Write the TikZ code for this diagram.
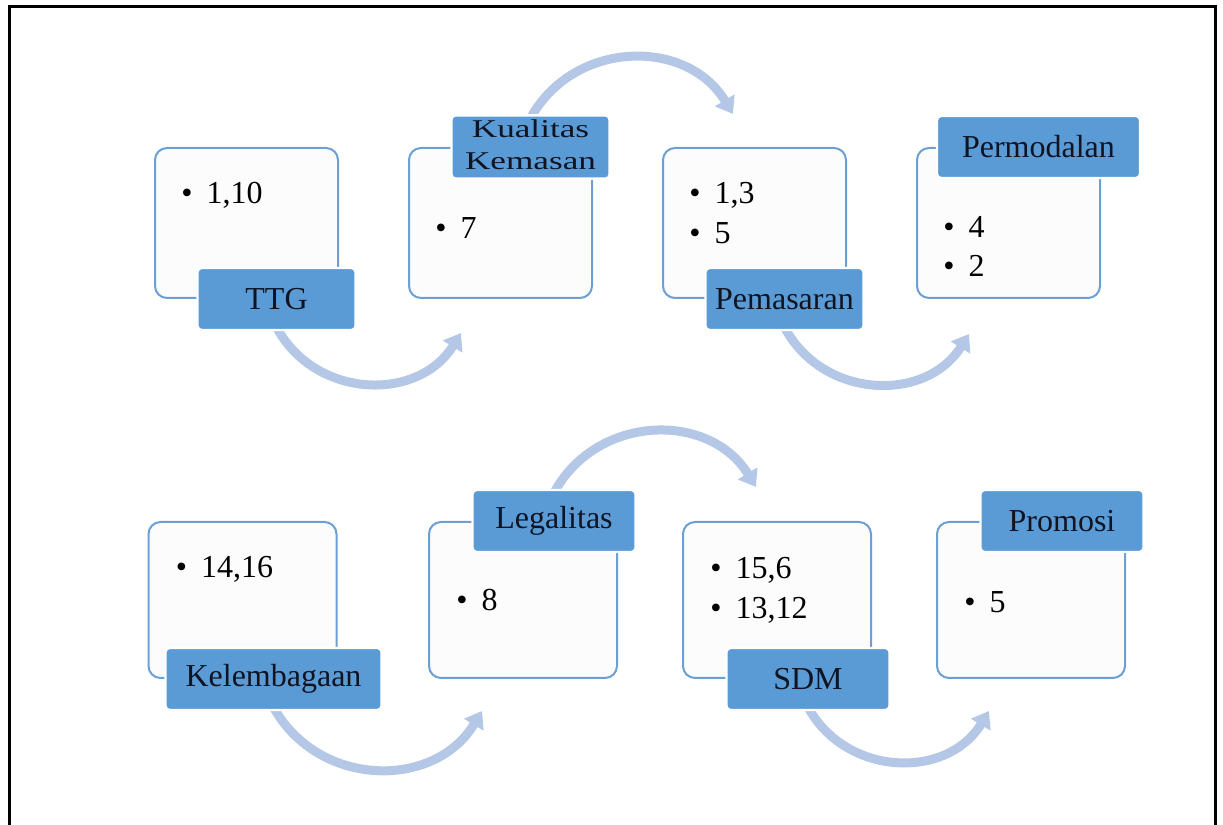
\documentclass[tikz,border=0pt]{standalone}
\usepackage{fontspec}
\setmainfont{Liberation Serif}
\usepackage{tikz}
\usetikzlibrary{positioning}
\usetikzlibrary{arrows.meta}
\usetikzlibrary{backgrounds}
\definecolor{tagblue}{RGB}{91,155,213}
\definecolor{boxblue}{RGB}{108,160,212}
\definecolor{flowblue}{RGB}{180,199,231}
\definecolor{tagtext}{RGB}{15,20,35}
\tikzset{
    every node/.style={font=\fontsize{16}{19.75}\selectfont}, % Text size of all texts
    numbox/.style={ % White boxes holding the numbers
        draw=boxblue,
        line width=1pt,
        fill=black!1,
        rounded corners=6pt,
        minimum width=91.5pt,
        minimum height=75pt
    },
    widebox/.style={numbox, minimum width=94pt, minimum height=78pt},
    tag/.style={ % Blue title on a corner of each box
        draw=white,
        line width=1.2pt,
        fill=tagblue,
        text=tagtext,
        rounded corners=2pt,
        minimum width=79pt,
        minimum height=31pt,
        inner xsep=3pt,
        inner ysep=0pt
    },
    widetag/.style={tag, minimum width=81.5pt},
    items/.style={anchor=north west, inner sep=0pt, align=left},
    flow/.style={ % Curved arrow from one box to the next
        draw=flowblue,
        line width=4.5pt,
        -{Triangle[width=11pt,length=8pt]},
        looseness=1.13
    }
}

\begin{document}
\begin{tikzpicture}[x=0.5pt,y=0.5pt]
    \useasboundingbox (0,0) rectangle (1223,825);
    \draw[line width=1.5pt] (9,0) -- (9,818.5) -- (1215,818.5) -- (1215,0);

    % upper row
    \node[numbox] (b1) at (246.5,602) {};
    \node[numbox, right=34.5pt of b1] (b2) {};
    \node[numbox, right=34.5pt of b2] (b3) {};
    \node[numbox, right=34.5pt of b3] (b4) {};

    \node[tag] (ttg) at ([xshift=15pt]b1.south) {TTG};
    \node[tag] (kemasan) at ([xshift=15pt]b2.north) {\scalebox{1.1}[0.8]{\begin{tabular}{@{}c@{}}Kualitas\\Kemasan\end{tabular}}};
    \node[tag] (pemasaran) at ([xshift=15pt]b3.south) {Pemasaran};
    \node[tag, minimum width=101.5pt] (modal) at ([xshift=15pt]b4.north) {Permodalan};

    \node[items] at ([shift={(13.5pt,-17.5pt)}]b1.north west) {\textbullet\hspace{7pt}1,10};
    \node[items] at ([shift={(13.5pt,-35pt)}]b2.north west) {\textbullet\hspace{7pt}7};
    \node[items] at ([shift={(13.5pt,-17.5pt)}]b3.north west) {\textbullet\hspace{7pt}1,3\\\textbullet\hspace{7pt}5};
    \node[items] at ([shift={(13.5pt,-34.5pt)}]b4.north west) {\textbullet\hspace{7pt}4\\\textbullet\hspace{7pt}2};

    % lower row
    \node[widebox] (b5) at (242.5,225) {};
    \node[widebox, right=45.25pt of b5] (b6) {};
    \node[widebox, right=32pt of b6] (b7) {};
    \node[widebox, right=32pt of b7] (b8) {};

    \node[widetag, minimum width=108pt] (lembaga) at ([xshift=15.5pt]b5.south) {Kelembagaan};
    \node[widetag] (legal) at ([xshift=15.5pt]b6.north) {Legalitas};
    \node[widetag] (sdm) at ([xshift=15.5pt]b7.south) {SDM};
    \node[widetag] (promosi) at ([xshift=15.5pt]b8.north) {Promosi};

    \node[items] at ([shift={(14pt,-17.5pt)}]b5.north west) {\textbullet\hspace{7pt}14,16};
    \node[items] at ([shift={(14pt,-34pt)}]b6.north west) {\textbullet\hspace{7pt}8};
    \node[items] at ([shift={(14pt,-18pt)}]b7.north west) {\textbullet\hspace{7pt}15,6\\\textbullet\hspace{7pt}13,12};
    \node[items] at ([shift={(14pt,-35pt)}]b8.north west) {\textbullet\hspace{7pt}5};

    % arrow tips
    \coordinate (t1) at ([shift={(26.5pt,-17pt)}]b2.south west);
    \coordinate (t2) at ([shift={(35.5pt,16.5pt)}]b3.north west);
    \coordinate (t3) at ([shift={(26.5pt,-17.5pt)}]b4.south west);
    \coordinate (t4) at ([shift={(27pt,-16pt)}]b6.south west);
    \coordinate (t5) at ([shift={(37pt,17pt)}]b7.north west);
    \coordinate (t6) at ([shift={(26.5pt,-16pt)}]b8.south west);

    \begin{scope}[on background layer]
        \draw[flow] ([yshift=2pt]ttg.south) to[bend right=60] (t1);
        \draw[flow] ([yshift=-2pt]kemasan.north) to[bend left=60] (t2);
        \draw[flow] ([yshift=2pt]pemasaran.south) to[bend right=60] (t3);
        \draw[flow] ([yshift=2pt]lembaga.south) to[bend right=60] (t4);
        \draw[flow] ([yshift=-2pt]legal.north) to[bend left=60] (t5);
        \draw[flow] ([yshift=2pt]sdm.south) to[bend right=60] (t6);
    \end{scope}
\end{tikzpicture}
\end{document}
